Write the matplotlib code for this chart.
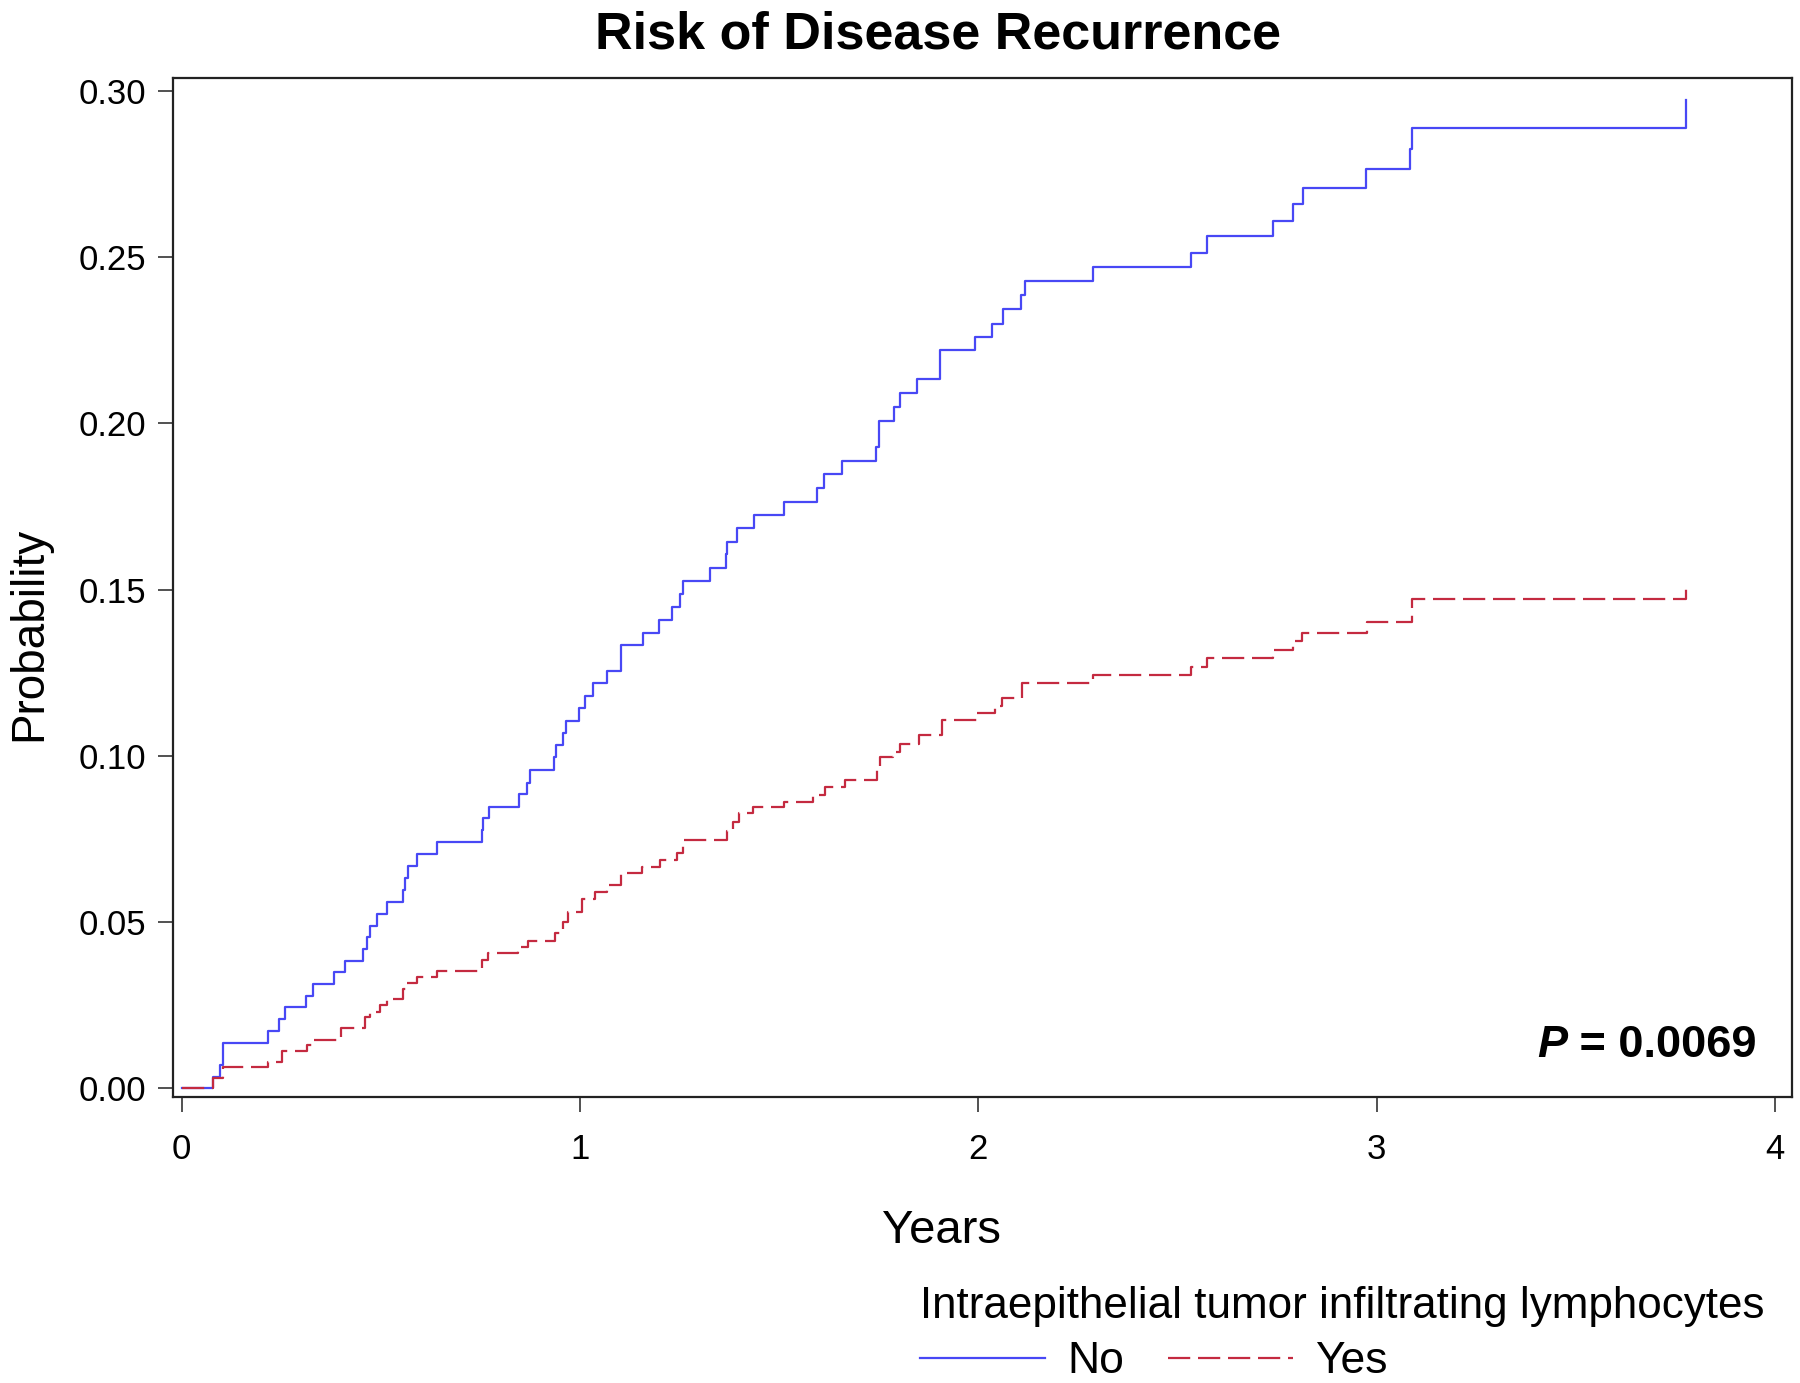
import matplotlib
matplotlib.use("Agg")
import matplotlib.pyplot as plt

# ---- data ----
years_no = [0, 0.08, 0.096, 0.105, 0.218, 0.245, 0.259, 0.312, 0.331, 0.383, 0.41, 0.456, 0.465,
            0.474, 0.49, 0.515, 0.556, 0.56, 0.569, 0.59, 0.642, 0.753, 0.757, 0.772, 0.847, 0.866,
            0.875, 0.935, 0.94, 0.958, 0.965, 0.997, 1.013, 1.033, 1.069, 1.102, 1.157, 1.199, 1.23,
            1.251, 1.259, 1.326, 1.366, 1.37, 1.395, 1.437, 1.513, 1.594, 1.613, 1.659, 1.742, 1.751,
            1.788, 1.803, 1.847, 1.905, 1.992, 2.035, 2.063, 2.107, 2.116, 2.287, 2.534, 2.574, 2.741,
            2.789, 2.814, 2.973, 3.084, 3.09, 3.777]
prob_no = [0, 0.0033, 0.007, 0.0137, 0.0173, 0.0208, 0.0244, 0.0278, 0.0314, 0.035, 0.0384, 0.0418,
           0.0456, 0.0488, 0.0524, 0.0561, 0.0596, 0.0632, 0.0669, 0.0705, 0.074, 0.0777, 0.0812,
           0.0847, 0.0884, 0.0919, 0.0959, 0.0997, 0.1033, 0.107, 0.1106, 0.1143, 0.118, 0.1218,
           0.1256, 0.1333, 0.137, 0.141, 0.1449, 0.1487, 0.1527, 0.1566, 0.1607, 0.1644, 0.1684,
           0.1724, 0.1764, 0.1806, 0.1847, 0.1888, 0.1929, 0.2008, 0.205, 0.2092, 0.2135, 0.222,
           0.226, 0.23, 0.2344, 0.2386, 0.2428, 0.2471, 0.2514, 0.2565, 0.261, 0.266, 0.2709,
           0.2764, 0.2824, 0.2887, 0.2972]

years_yes = [0, 0.08, 0.105, 0.218, 0.251, 0.314, 0.33, 0.40, 0.46, 0.472, 0.498, 0.515, 0.556,
             0.565, 0.59, 0.64, 0.753, 0.77, 0.845, 0.87, 0.937, 0.958, 0.971, 1.004, 1.038, 1.067,
             1.102, 1.155, 1.2, 1.243, 1.259, 1.368, 1.385, 1.4, 1.435, 1.512, 1.586, 1.615, 1.665,
             1.745, 1.753, 1.787, 1.803, 1.85, 1.908, 1.996, 2.042, 2.059, 2.109, 2.287, 2.535,
             2.574, 2.741, 2.791, 2.812, 2.975, 3.088, 3.777]
prob_yes = [0, 0.003, 0.0065, 0.008, 0.0113, 0.013, 0.0147, 0.0183, 0.0216, 0.023, 0.025, 0.0268,
            0.030, 0.0316, 0.0336, 0.0354, 0.0386, 0.0406, 0.0426, 0.0444, 0.0466, 0.050, 0.053,
            0.057, 0.0591, 0.0612, 0.0647, 0.0667, 0.0687, 0.0707, 0.0747, 0.0775, 0.080, 0.0827,
            0.0847, 0.0862, 0.0882, 0.0907, 0.0929, 0.0957, 0.0997, 0.1012, 0.1037, 0.1062,
            0.1108, 0.1128, 0.115, 0.1173, 0.1218, 0.1243, 0.1268, 0.1293, 0.1318, 0.1346, 0.137,
            0.1403, 0.1471, 0.152]

x_ticks = [0, 1, 2, 3, 4]
y_ticks = [0.00, 0.05, 0.10, 0.15, 0.20, 0.25, 0.30]
y_ticklabels = ["0.00", "0.05", "0.10", "0.15", "0.20", "0.25", "0.30"]
group_labels = ["No", "Yes"]
legend_title = "Intraepithelial tumor infiltrating lymphocytes"
title = "Risk of Disease Recurrence"
p_text = "0.0069"

# ---- style ----
plt.rcParams["font.family"] = ["Liberation Sans", "DejaVu Sans"]
blue = "#4848F5"
red = "#C42A40"

fig = plt.figure(figsize=(18, 13.83), dpi=100)
ax = fig.add_axes([0.0959, 0.2070, 0.8995, 0.7364])

ax.step(years_no, prob_no, where="post", color=blue, lw=1.6, label=group_labels[0])
ax.step(years_yes, prob_yes, where="post", color=red, lw=1.6, dashes=(10, 3.5),
        label=group_labels[1])

ax.set_xlim(-0.0226, 4.042)
ax.set_ylim(-0.0025, 0.3038)
ax.set_xticks(x_ticks)
ax.set_xticklabels([str(v) for v in x_ticks])
ax.set_yticks(y_ticks)
ax.set_yticklabels(y_ticklabels)
ax.tick_params(axis="both", labelsize=25, length=11, width=1.2, color="#333333")
ax.tick_params(axis="x", pad=15)
ax.tick_params(axis="y", pad=8)
for s in ax.spines.values():
    s.set_linewidth(1.6)
    s.set_color("#222222")

# title and axis labels
fig.text(0.521, 0.975, title, ha="center", va="center", fontsize=37.5, fontweight="bold")
fig.text(0.523, 0.110, "Years", ha="center", va="center", fontsize=34)
fig.text(0.016, 0.5416, "Probability", ha="center", va="center", fontsize=33, rotation=90)

# P value
t = ax.text(0.9785, 0.050, " = " + p_text, transform=ax.transAxes, ha="right", va="center",
            fontsize=32.5, fontweight="bold")
ax.annotate("P", xy=(0, 0.5), xycoords=t, ha="right", va="center", fontsize=32.5,
            fontweight="bold", fontstyle="italic")

# legend
leg = fig.legend(loc="lower left", bbox_to_anchor=(0.494, -0.022), ncol=2, frameon=False,
                 title=legend_title, title_fontsize=31.7, fontsize=32, alignment="left",
                 handlelength=2.8, handletextpad=0.5, columnspacing=1.0, borderpad=0.2,
                 labelspacing=0.2)
leg._legend_box.sep = 10

fig.savefig("out.png", dpi=100)
